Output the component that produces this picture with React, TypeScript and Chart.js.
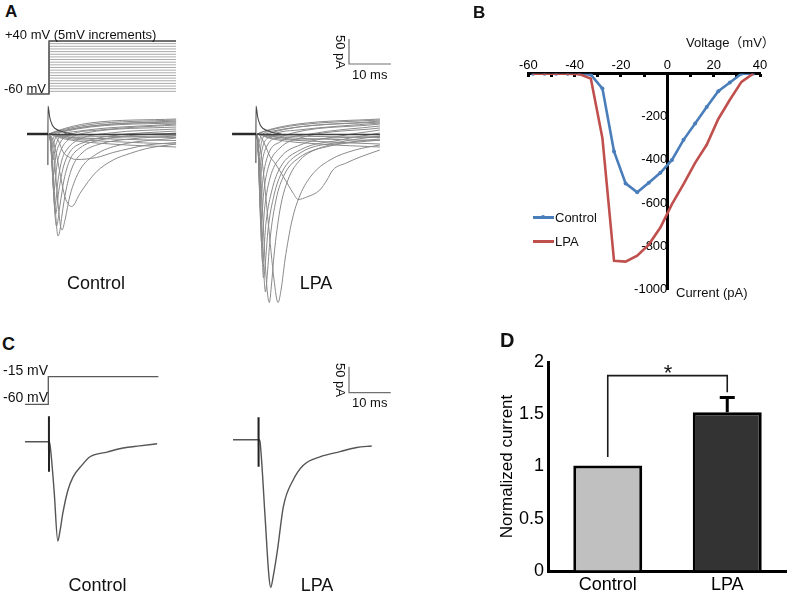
import React, { useEffect, useRef } from 'react';
import { Chart, registerables } from 'chart.js';

Chart.register(...registerables);

const FONT = '"Liberation Sans", Arial, "Noto Sans CJK SC", sans-serif';

// ---------------- Panel B : I-V curve ----------------
const ivVoltages = [-58, -53, -48, -43, -38, -33, -28, -23, -18, -13, -8, -3, 2, 7, 12, 17, 22, 27, 32, 37];
const ivControl = [0, 0, 0, 0, 0, -5, -69, -361, -509, -550, -506, -460, -400, -307, -231, -154, -81, -41, 0, 0];
const ivLPA = [0, 0, 0, 0, -2, -23, -300, -868, -872, -844, -793, -714, -605, -512, -414, -330, -210, -121, -38, 0];
const ivXTicks = [-60, -40, -20, 0, 20, 40];
const ivXMinorTicks = [-60, -50, -40, -30, -20, -10, 0, 10, 20, 30, 40];
const ivYTicks = [-1000, -800, -600, -400, -200];
const ivSeriesNames = ['Control', 'LPA'];

// ---------------- Panel D : normalized current ----------------
const barCategories = ['Control', 'LPA'];
const barMeans = [1.01, 1.52];
const barSem = [0, 0.14];
const barYTicks = [0, 0.5, 1, 1.5, 2];
const sigBracket = [1.09, 1.87, 1.87, 1.71]; // Control leg bottom, top, top, LPA leg bottom
const sigLabel = '*';

// ---------------- Panel A : voltage protocol ----------------
const holdingMv = -60;
const stepLevelsA = [-55, -50, -45, -40, -35, -30, -25, -20, -15, -10, -5, 0, 5, 10, 15, 20, 25, 30, 35, 40];
const protocolTimesA = [-5.07, 0.24, 30.48]; // start, step onset, end (ms)

// ---------------- Panel A : current families (t ms, I pA) ----------------
const controlFamilyA: number[][][] = [
  [[0.25, 0], [4, -10], [15, -20], [30.5, -26]],
  [[0.25, 0], [4, -8], [15, -15], [30.5, -20]],
  [[0.25, 0], [4, -5], [15, -10], [30.5, -13]],
  [[0.25, 0], [4, -3], [15, -5], [30.5, -7]],
  [[0.25, 0], [3, -4], [7, -9], [11, -10], [18, -6], [30.5, -3]],
  [[0.25, 0], [1.5, -3], [2.5, -14], [3.6, -36], [5.2, -47], [6.8, -51], [11.6, -47], [15.5, -37], [19.5, -29], [23.5, -22], [27.5, -19], [30.5, -17]],
  [[0.25, 0], [1, -8], [2, -40], [3, -85], [4, -125], [4.9, -141], [5.64, -145], [7.6, -119], [9.6, -95], [11.6, -75], [15.5, -52], [19.5, -39], [23.5, -29], [30.5, -20]],
  [[0.25, 0], [0.9, -12], [1.6, -60], [2.3, -130], [2.9, -180], [3.33, -192], [4.1, -170], [5.2, -124], [7.6, -72], [11.2, -42], [17.1, -22], [30.5, -8]],
  [[0.25, 0], [0.8, -20], [1.4, -95], [1.95, -175], [2.38, -204], [2.9, -190], [3.33, -162], [4.3, -112], [5.7, -68], [8.1, -38], [12.4, -20], [19.5, -10], [30.5, -4]],
  [[0.25, 0], [0.7, -20], [1.2, -90], [1.65, -160], [2.02, -184], [2.86, -142], [3.8, -92], [5.2, -52], [7.6, -28], [12.4, -12], [30.5, 2]],
  [[0.25, 0], [0.65, -18], [1.1, -80], [1.5, -140], [1.79, -160], [2.6, -112], [3.6, -68], [5.2, -36], [8.8, -16], [14.8, -4], [30.5, 6]],
  [[0.25, 0], [0.6, -16], [1, -70], [1.4, -125], [1.67, -142], [2.4, -92], [3.3, -52], [4.8, -28], [7.6, -10], [14.8, 2], [30.5, 10]],
  [[0.25, 0], [0.55, -14], [0.95, -60], [1.2, -98], [1.43, -112], [2.14, -62], [3.1, -32], [4.8, -12], [8.8, 2], [30.5, 14]],
  [[0.25, 0], [0.55, -10], [0.9, -45], [1.31, -82], [1.9, -42], [2.86, -18], [5.2, -2], [12.4, 8], [30.5, 18]],
  [[0.25, 0], [0.6, -12], [0.9, -32], [1.19, -52], [1.79, -24], [2.86, -6], [7.6, 6], [30.5, 20]],
  [[0.25, 0], [0.6, -10], [1.07, -28], [1.67, -10], [3.3, 4], [30.5, 22]],
  [[0.25, 0], [0.95, -12], [1.9, 2], [30.5, 24]],
  [[0.25, 0], [2, 4], [10, 16], [30.5, 26]],
  [[0.25, 0], [2, 5], [10, 19], [30.5, 28]],
  [[0.25, 0], [2, 6], [10, 22], [30.5, 30]],
];

const lpaFamilyA: number[][][] = [
  [[0.25, 0], [4, -10], [15, -20], [29.5, -26]],
  [[0.25, 0], [4, -8], [15, -15], [29.5, -20]],
  [[0.25, 0], [4, -5], [15, -10], [29.5, -13]],
  [[0.25, 0], [4, -3], [15, -5], [29.5, -7]],
  [[0.25, 0], [4, -5], [8, -10], [11, -12], [18, -8], [29.5, -5]],
  [[0.25, 0], [1, -4], [2.14, -22], [3.33, -45], [4.5, -58], [6.5, -85], [8.9, -119], [10, -131], [12.1, -126], [15.2, -112], [16.9, -92], [18.3, -72], [21.5, -58], [24.8, -46], [29.5, -32]],
  [[0.25, 0], [1.43, -52], [2.86, -172], [4.3, -292], [5.24, -337], [6, -310], [6.9, -252], [8.6, -172], [10.5, -122], [13.3, -82], [17.6, -52], [23.6, -32], [29.5, -22]],
  [[0.25, 0], [1.19, -92], [2.14, -252], [2.75, -320], [3.17, -337], [3.7, -300], [4.3, -242], [5.7, -152], [7.6, -92], [10.5, -52], [15.2, -28], [22.4, -16], [29.5, -10]],
  [[0.25, 0], [0.9, -80], [1.6, -230], [2.26, -316], [2.7, -280], [3.33, -212], [4.76, -132], [6.7, -82], [10.5, -46], [17.6, -24], [29.5, -12]],
  [[0.25, 0], [0.8, -70], [1.35, -210], [1.79, -288], [2.3, -250], [2.86, -192], [4.3, -122], [6.2, -76], [10.5, -38], [20, -16], [29.5, -4]],
  [[0.25, 0], [0.7, -60], [1.15, -180], [1.55, -256], [2.4, -176], [3.8, -112], [5.7, -68], [10.5, -32], [20, -12], [29.5, 2]],
  [[0.25, 0], [0.65, -50], [1, -150], [1.31, -216], [2.14, -142], [3.33, -88], [5.7, -48], [10.5, -22], [20, -4], [29.5, 8]],
  [[0.25, 0], [0.6, -45], [0.9, -130], [1.14, -182], [1.9, -112], [3.1, -62], [5.7, -28], [10.5, -8], [29.5, 12]],
  [[0.25, 0], [0.55, -40], [0.8, -105], [1, -148], [1.67, -88], [2.86, -42], [5.7, -16], [12.9, 0], [29.5, 16]],
  [[0.25, 0], [0.5, -30], [0.72, -80], [0.88, -112], [1.43, -60], [2.6, -24], [5.7, -6], [29.5, 20]],
  [[0.25, 0], [0.5, -25], [0.76, -76], [1.43, -32], [2.86, -8], [10, 8], [29.5, 22]],
  [[0.25, 0], [0.45, -15], [0.67, -44], [1.43, -12], [3.33, 2], [29.5, 24]],
  [[0.25, 0], [0.45, -8], [0.6, -18], [1.2, -4], [4, 6], [29.5, 26]],
  [[0.25, 0], [2, 5], [10, 18], [29.5, 28]],
  [[0.25, 0], [2, 6], [10, 20], [29.5, 30]],
];

// dark, overlapping near-zero sweeps seen through the middle of both bands
const restingSweepControlA = [[0.25, 0], [4, -1], [15, -1], [30.5, 0]];
const restingSweepLpaA = [[0.25, 0], [4, -1], [15, -1], [29.5, -1]];

const holdingTraceControlA = [[-5.0, 0], [0, 0]];
const holdingTraceLpaA = [[-5.7, 0], [0, 0]];
const artifactControlA = [[-0.03, -62], [0, 56], [0.4, 34], [1.0, 18], [1.7, 11], [3.6, 4], [6, 0]];
const artifactLpaA = [[-0.03, -58], [0, 56], [0.4, 34], [1.0, 18], [1.7, 11], [3.6, 4], [6, 0]];

// ---------------- Panel C : single step to -15 mV ----------------
const stepLevelC = -15;
const protocolTimesC = [-5.6, 0, 26.4];
const controlTraceC = [[-5.6, 0], [0.2, 0], [0.45, -8], [1.4, -95], [2.28, -191], [2.8, -172], [3.5, -137], [4.72, -93], [5.92, -68], [8.08, -45], [10, -29], [14.1, -20], [17.9, -12], [21.9, -8], [26.1, -4]];
const lpaTraceC = [[-6.07, 0], [0.2, 0], [0.45, -6], [1.6, -145], [2.5, -258], [2.97, -284], [3.6, -262], [4.6, -212], [6.0, -129], [8.39, -77], [10.8, -49], [14.8, -33], [19.6, -23], [23.6, -15], [27.2, -12]];
const artifactControlC = [[0.15, 49], [0.17, -58]];
const artifactLpaC = [[0.05, 43], [0.07, -52]];

// scale bars (values)
const scaleBarMs = 10;
const scaleBarPa = 50;

// ---------------- helpers ----------------
const pts = (arr: number[][]) => arr.map(([x, y]) => ({ x, y }));
const plainNumber = (v: any) => String(v);

function range(zeroPx: number, pxPerUnit: number, sizePx: number, valueAtZero = 0): [number, number] {
  return [valueAtZero - zeroPx / pxPerUnit, valueAtZero + (sizePx - zeroPx) / pxPerUnit];
}
function vRange(zeroPxFromTop: number, pxPerUnit: number, sizePx: number, valueAtZero = 0): [number, number] {
  const max = valueAtZero + zeroPxFromTop / pxPerUnit;
  return [max - sizePx / pxPerUnit, max];
}

function traceConfig(datasets: any[], xr: [number, number], yr: [number, number], vr?: [number, number]) {
  const scales: any = {
    x: { type: 'linear', display: false, min: xr[0], max: xr[1] },
    y: { type: 'linear', display: false, min: yr[0], max: yr[1] },
  };
  if (vr) scales.yv = { type: 'linear', display: false, min: vr[0], max: vr[1] };
  return {
    type: 'line',
    data: { datasets },
    options: {
      animation: false,
      responsive: false,
      events: [],
      layout: { padding: 0 },
      plugins: { legend: { display: false }, tooltip: { enabled: false } },
      scales,
    },
  };
}

const traceDs = (arr: number[][], color = '#8a8a8a', width = 1, order = 5) => ({
  data: pts(arr), borderColor: color, borderWidth: width, pointRadius: 0,
  cubicInterpolationMode: 'monotone', fill: false, yAxisID: 'y', order,
});
const straightDs = (arr: number[][], color: string, width: number, axis = 'y', order = 1) => ({
  data: pts(arr), borderColor: color, borderWidth: width, pointRadius: 0, tension: 0,
  fill: false, yAxisID: axis, order,
});

function protocolA() {
  const [t0, t1, t2] = protocolTimesA;
  const ds = stepLevelsA.map((lv) =>
    straightDs([[t1, holdingMv], [t1, lv], [t2, lv]], '#ababab', 1, 'yv', 3)
  );
  ds.push(straightDs([[t0, holdingMv], [t1, holdingMv], [t1, stepLevelsA[stepLevelsA.length - 1]], [t2, stepLevelsA[stepLevelsA.length - 1]]], '#505050', 1.3, 'yv', 0));
  return ds;
}

function scaleBarDs(t0: number, i0: number) {
  return straightDs([[t0, i0 + scaleBarPa], [t0, i0], [t0 + scaleBarMs, i0]], '#707070', 1.2, 'y', 0);
}

// ---------------- chart configs ----------------
function configALeft() {
  const ds: any[] = [
    ...protocolA(),
    ...controlFamilyA.map((t) => traceDs(t)),
    traceDs(restingSweepControlA, '#3c3c3c', 1.4, 4),
    straightDs(holdingTraceControlA, '#2a2a2a', 2.5, 'y', 0),
    { ...traceDs(artifactControlA, '#4a4a4a', 1.1, 0) },
  ];
  return traceConfig(ds, range(48, 4.2, 200), vRange(104, 0.5, 270), vRange(64, 0.53, 270, holdingMv));
}
function configARight() {
  const ds: any[] = [
    ...lpaFamilyA.map((t) => traceDs(t)),
    traceDs(restingSweepLpaA, '#3c3c3c', 1.4, 4),
    straightDs(holdingTraceLpaA, '#2a2a2a', 2.5, 'y', 0),
    { ...traceDs(artifactLpaA, '#4a4a4a', 1.1, 0) },
    scaleBarDs(22.14, 140),
  ];
  return traceConfig(ds, range(56, 4.2, 200), vRange(104, 0.5, 280));
}
function configCLeft() {
  const [t0, t1, t2] = protocolTimesC;
  const ds: any[] = [
    straightDs([[t0, holdingMv], [t1, holdingMv], [t1, stepLevelC], [t2, stepLevelC]], '#5a5a5a', 1.3, 'yv', 0),
    traceDs(controlTraceC, '#555555', 1.4, 2),
    straightDs(artifactControlC, '#222222', 2, 'y', 1),
  ];
  return traceConfig(ds, range(48.3, 4.17, 200), vRange(86.7, 0.52, 239), vRange(49.3, 0.6133, 239, holdingMv));
}
function configCRight() {
  const ds: any[] = [
    traceDs(lpaTraceC, '#555555', 1.4, 2),
    straightDs(artifactLpaC, '#222222', 2, 'y', 1),
    scaleBarDs(21.75, 90.4),
  ];
  return traceConfig(ds, range(58.3, 4.17, 200), vRange(84.7, 0.52, 239));
}

function configB() {
  return {
    type: 'line',
    data: {
      datasets: [
        {
          label: ivSeriesNames[0], data: ivVoltages.map((v, i) => ({ x: v, y: ivControl[i] })),
          borderColor: '#4a7ebb', backgroundColor: '#4a7ebb', borderWidth: 2.6, pointRadius: 2,
          pointBorderWidth: 0, tension: 0, order: 1, xAxisID: 'x', yAxisID: 'y',
        },
        {
          label: ivSeriesNames[1], data: ivVoltages.map((v, i) => ({ x: v, y: ivLPA[i] })),
          borderColor: '#c0504d', backgroundColor: '#c0504d', borderWidth: 2.6, pointRadius: 0.8,
          pointBorderWidth: 0, tension: 0, order: 0, xAxisID: 'x', yAxisID: 'y',
        },
      ],
    },
    options: {
      animation: false, responsive: false, events: [],
      layout: { padding: { left: 58.3, right: 27, top: 0, bottom: 10 } },
      plugins: { legend: { display: false }, tooltip: { enabled: false } },
      scales: {
        x: {
          type: 'linear', position: 'top', min: -60, max: 40,
          afterBuildTicks: (s: any) => { s.ticks = ivXTicks.map((value) => ({ value })); },
          afterFit: (s: any) => { s.height = 53.7; },
          ticks: { padding: 0, color: '#000', font: { family: FONT, size: 13 }, maxRotation: 0, autoSkip: false, callback: plainNumber },
          grid: { display: true, drawOnChartArea: false, drawTicks: false },
          border: { display: true, width: 3, color: '#000' },
        },
        xMinor: {
          type: 'linear', axis: 'x', position: { y: 0 }, min: -60, max: 40,
          afterBuildTicks: (s: any) => { s.ticks = ivXMinorTicks.map((value) => ({ value })); },
          ticks: { display: false },
          grid: { display: true, drawOnChartArea: false, drawTicks: true, tickLength: 3, tickWidth: 3, tickColor: '#000' },
          border: { display: false },
        },
        y: {
          type: 'linear', position: { x: 0 }, min: -1000, max: 0,
          afterBuildTicks: (s: any) => { s.ticks = ivYTicks.map((value) => ({ value })); },
          ticks: { padding: 3, color: '#000', font: { family: FONT, size: 13 }, callback: plainNumber },
          grid: { display: true, drawOnChartArea: false, drawTicks: false },
          border: { display: true, width: 3, color: '#000' },
        },
      },
    },
  };
}

const errorBarPlugin = {
  id: 'errorBars',
  afterDatasetsDraw(chart: any) {
    const meta = chart.getDatasetMeta(1);
    const ys = chart.scales.y;
    const ctx = chart.ctx;
    ctx.save();
    ctx.strokeStyle = '#000';
    ctx.lineWidth = 3;
    meta.data.forEach((el: any, i: number) => {
      if (!barSem[i]) return;
      const y0 = ys.getPixelForValue(barMeans[i]);
      const y1 = ys.getPixelForValue(barMeans[i] + barSem[i]);
      ctx.beginPath();
      ctx.moveTo(el.x, y0);
      ctx.lineTo(el.x, y1);
      ctx.moveTo(el.x - 7.5, y1);
      ctx.lineTo(el.x + 7.5, y1);
      ctx.stroke();
    });
    ctx.restore();
  },
};

function configD() {
  return {
    type: 'bar',
    data: {
      labels: barCategories,
      datasets: [
        {
          type: 'line',
          data: [
            { x: barCategories[0], y: sigBracket[0] },
            { x: barCategories[0], y: sigBracket[1] },
            { x: barCategories[1], y: sigBracket[2] },
            { x: barCategories[1], y: sigBracket[3] },
          ],
          borderColor: '#1a1a1a', borderWidth: 1.6, pointRadius: 0, tension: 0, fill: false, order: 0,
        },
        {
          type: 'bar', data: barMeans,
          backgroundColor: ['#c0c0c0', '#333333'], borderColor: '#000', borderWidth: 3,
          barPercentage: 0.577, categoryPercentage: 1, order: 1,
        },
      ],
    },
    options: {
      animation: false, responsive: false, events: [],
      layout: { padding: { top: 22, left: 0, right: 0, bottom: 0 } },
      plugins: { legend: { display: false }, tooltip: { enabled: false } },
      scales: {
        x: {
          type: 'category', offset: true,
          afterFit: (s: any) => { s.height = 23; },
          ticks: { padding: 3, color: '#000', font: { family: FONT, size: 18 }, maxRotation: 0, autoSkip: false },
          grid: { display: true, drawOnChartArea: false, drawTicks: false },
          border: { display: true, width: 3, color: '#000' },
        },
        y: {
          type: 'linear', min: 0, max: 2,
          afterBuildTicks: (s: any) => { s.ticks = barYTicks.map((value) => ({ value })); },
          afterFit: (s: any) => { s.width = 68; },
          ticks: { padding: 4, color: '#000', font: { family: FONT, size: 18 }, callback: plainNumber },
          grid: { display: true, drawOnChartArea: false, drawTicks: false },
          border: { display: true, width: 3, color: '#000' },
          title: { display: true, text: 'Normalized current', color: '#000', font: { family: FONT, size: 17 }, padding: { top: 17, bottom: 0 } },
        },
      },
    },
    plugins: [errorBarPlugin],
  };
}

// ---------------- components ----------------
function ChartCanvas({ left, top, width, height, make }: any) {
  const ref = useRef<HTMLCanvasElement>(null);
  useEffect(() => {
    const chart = new Chart(ref.current as HTMLCanvasElement, make());
    return () => chart.destroy();
  }, []);
  return (
    <canvas
      ref={ref}
      width={width}
      height={height}
      style={{ position: 'absolute', left, top, width, height }}
    />
  );
}

function Label({ x, y, size, children, bold, center, rotate, top }: any) {
  const style: React.CSSProperties = {
    position: 'absolute',
    left: x,
    top: top !== undefined ? top : y - 0.49 * size,
    fontFamily: FONT,
    fontSize: size,
    lineHeight: 1,
    whiteSpace: 'nowrap',
    fontWeight: bold ? 'bold' : 'normal',
    color: '#111',
    transform: center ? 'translateX(-50%)' : undefined,
  };
  if (rotate) {
    style.top = y;
    style.transform = 'translate(-50%, -50%) rotate(90deg)';
  }
  return <div style={style}>{children}</div>;
}

export default function App() {
  return (
    <div style={{ position: 'absolute', left: 0, top: 0, width: 787, height: 594, background: '#fff', overflow: 'hidden' }}>
      <ChartCanvas left={0} top={30} width={200} height={270} make={configALeft} />
      <ChartCanvas left={200} top={30} width={200} height={280} make={configARight} />
      <ChartCanvas left={470} top={20} width={317} height={280} make={configB} />
      <ChartCanvas left={0} top={355} width={200} height={239} make={configCLeft} />
      <ChartCanvas left={200} top={355} width={200} height={239} make={configCRight} />
      <ChartCanvas left={480} top={340} width={307} height={254} make={configD} />

      {/* Panel A */}
      <Label x={5} y={11} size={17} bold>A</Label>
      <Label x={5} y={34} size={13}>+40 mV (5mV increments)</Label>
      <Label x={4} y={88} size={13}>-60 mV</Label>
      <Label x={340} y={52} size={13} rotate>50 pA</Label>
      <Label x={352} y={74} size={13}>10 ms</Label>
      <Label x={96} y={283} size={18} center>Control</Label>
      <Label x={316} y={283} size={18} center>LPA</Label>

      {/* Panel B */}
      <Label x={473} y={12.5} size={17} bold>B</Label>
      <Label x={686} y={42} size={13}>Voltage（mV）</Label>
      <Label x={676} y={292} size={13}>Current (pA)</Label>
      <div style={{ position: 'absolute', left: 533, top: 215.5, width: 21, height: 3, background: '#4a7ebb' }} />
      <div style={{ position: 'absolute', left: 541, top: 215, width: 4, height: 4, borderRadius: 2, background: '#4a7ebb' }} />
      <div style={{ position: 'absolute', left: 533, top: 239.5, width: 21, height: 3, background: '#c0504d' }} />
      <Label x={555} y={217} size={13}>{ivSeriesNames[0]}</Label>
      <Label x={555} y={241} size={13}>{ivSeriesNames[1]}</Label>

      {/* Panel C */}
      <Label x={2} y={343.5} size={18} bold>C</Label>
      <Label x={3} y={370} size={14}>-15 mV</Label>
      <Label x={3} y={397} size={14}>-60 mV</Label>
      <Label x={340} y={380} size={13} rotate>50 pA</Label>
      <Label x={352} y={402} size={13}>10 ms</Label>
      <Label x={97.5} y={585} size={18} center>Control</Label>
      <Label x={317} y={585} size={18} center>LPA</Label>

      {/* Panel D */}
      <Label x={500} y={339.5} size={20} bold>D</Label>
      <Label x={668} top={362} size={22} center>{sigLabel}</Label>
    </div>
  );
}
